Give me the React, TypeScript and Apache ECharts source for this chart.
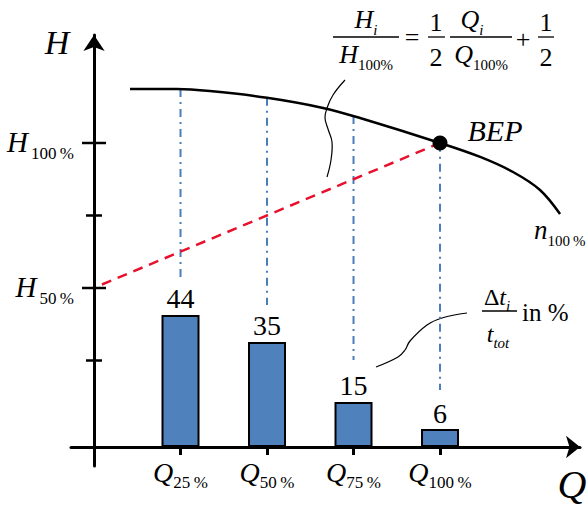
import React, { useEffect, useRef } from 'react';
import * as echarts from 'echarts';

// Pump characteristic (Q in % of Q100, H in % of H100)
const qCurve = [10.4, 24, 33.5, 50, 66.2, 76.9, 100, 111.6, 121.1, 128.9, 134.7];
const hCurve = [118.6, 118.6, 117.9, 115.6, 112.1, 108.6, 100, 95.2, 90, 83.8, 75.5];
// Best efficiency point
const bepQ = 100;
const bepH = 100;
// System line H/H100 = 1/2 Q/Q100 + 1/2
const systemQ = [2.3, 100];
const systemH = [51.2, 100];
// Operating points and time shares
const opQ = [25, 50, 75, 100];
const opQLabels = ['25\u2009%', '50\u2009%', '75\u2009%', '100\u2009%'];
const timeShare = [44, 35, 15, 6];
const dropTop = [118.6, 115.6, 109.3, 99.7];
const dropBottom = [52.1, 44.1, 25.2, 14.8];
// H axis ticks
const hTicks = [25, 50, 75, 100];
const hTickLabels = ['', '50\u2009%', '', '100\u2009%'];

const SERIF = 'Liberation Serif';

function richFrac(main: number, sub: number) {
  return {
    m: { fontFamily: SERIF, fontSize: main, fontStyle: 'italic', fill: '#000', color: '#000', verticalAlign: 'bottom', padding: [0, 0, Math.round(main * 0.2), 0] },
    u: { fontFamily: SERIF, fontSize: main, fill: '#000', color: '#000', verticalAlign: 'bottom', padding: [0, 0, Math.round(main * 0.2), 0] },
    s: { fontFamily: SERIF, fontSize: sub, fill: '#000', color: '#000', verticalAlign: 'bottom' },
    si: { fontFamily: SERIF, fontSize: sub, fontStyle: 'italic', fill: '#000', color: '#000', verticalAlign: 'bottom' },
  };
}

function txt(x: number, y: number, text: string, size: number, italic: boolean, align = 'center') {
  return {
    type: 'text',
    x,
    y,
    silent: true,
    style: {
      text,
      fontFamily: SERIF,
      fontSize: size,
      fontStyle: italic ? 'italic' : 'normal',
      fill: '#000',
      align,
      verticalAlign: 'middle',
      textAlign: align,
      textVerticalAlign: 'middle',
    },
  };
}

function rtxt(x: number, y: number, text: string, main: number, sub: number, align = 'center') {
  return {
    type: 'text',
    x,
    y,
    silent: true,
    style: {
      text,
      fontFamily: SERIF,
      rich: richFrac(main, sub),
      align,
      verticalAlign: 'middle',
      textAlign: align,
      textVerticalAlign: 'middle',
    },
  };
}

function hline(x1: number, x2: number, y: number, w = 1.3) {
  return { type: 'line', silent: true, shape: { x1, y1: y, x2, y2: y }, style: { stroke: '#000', lineWidth: w } };
}

let measureCtx: CanvasRenderingContext2D | null = null;
function measure(text: string, size: number, italic: boolean) {
  if (!measureCtx) measureCtx = document.createElement('canvas').getContext('2d');
  if (!measureCtx) return text.length * size * 0.5;
  measureCtx.font = `${italic ? 'italic ' : ''}${size}px "${SERIF}"`;
  return measureCtx.measureText(text).width;
}

export default function App() {
  const ref = useRef<HTMLDivElement>(null);

  useEffect(() => {
    if (!ref.current) return;
    const chart = echarts.init(ref.current, undefined, { renderer: 'svg' });

    const curveData = qCurve.map((q, i) => [q, hCurve[i]]);
    const systemData = systemQ.map((q, i) => [q, systemH[i]]);
    const barData = opQ.map((q, i) => [q, timeShare[i]]);
    const dropData = opQ.map((q, i) => [q, dropTop[i], dropBottom[i]]);
    const tickData = hTicks.map((h, i) => ({ value: [0, h], labeled: hTickLabels[i] !== '' }));

    const baseGraphic: any[] = [
      txt(57, 42, 'H', 34, true),
      txt(572, 484, 'Q', 40, true),
      // formula
      rtxt(366, 22, '{m|H}{si|i}', 26, 15),
      hline(333, 399, 37),
      rtxt(366, 57, '{m|H}{s|100%}', 26, 15),
      txt(412, 37, '=', 26, false),
      txt(436, 22, '1', 26, false),
      hline(428, 445, 37),
      txt(436, 57, '2', 26, false),
      rtxt(472, 22, '{m|Q}{si|i}', 26, 15),
      hline(450, 512, 37),
      rtxt(481, 57, '{m|Q}{s|100%}', 26, 15),
      txt(523, 39, '+', 26, false),
      txt(546, 22, '1', 26, false),
      hline(538, 554, 37),
      txt(546, 57, '2', 26, false),
      // time share annotation
      rtxt(497, 299, '{u|Δ}{m|t}{si|i}', 24, 15),
      hline(482, 517, 311),
      rtxt(498, 336, '{m|t}{si|tot}', 24, 15),
      txt(522, 312, 'in %', 25, false, 'left'),
      // n100% label
      rtxt(534, 232, '{m|n}{s|100\u2009%}', 27, 15, 'left'),
      // leader lines
      {
        type: 'polyline',
        silent: true,
        shape: { points: [[345, 80], [333, 95], [327, 108], [325, 118], [328, 129], [332, 142], [331, 160], [327, 177]], smooth: 0.4 },
        style: { stroke: '#000', lineWidth: 1.2, fill: 'none' },
      },
      {
        type: 'polyline',
        silent: true,
        shape: { points: [[376, 367], [398, 357], [405, 350], [410, 341], [427, 325], [442, 318], [467, 313]], smooth: 0.4 },
        style: { stroke: '#000', lineWidth: 1.2, fill: 'none' },
      },
    ];

    const option: any = {
      animation: false,
      backgroundColor: '#fff',
      textStyle: { fontFamily: SERIF },
      grid: { left: 71, right: 8, top: 35, bottom: 39, containLabel: false, outerBoundsMode: 'none' },
      xAxis: {
        type: 'value',
        min: -6.65,
        max: 140.46,
        splitLine: { show: false },
        axisLine: {
          show: true,
          onZero: true,
          onZeroAxisIndex: 1,
          symbol: ['none', 'arrow'],
          symbolSize: [17, 14],
          lineStyle: { color: '#000', width: 3 },
        },
        axisTick: { show: true, customValues: opQ, length: 8, lineStyle: { color: '#000', width: 3 } },
        axisLabel: { show: false },
      },
      yAxis: [
        {
          type: 'value',
          min: -11.38,
          max: 137.24,
          splitLine: { show: false },
          axisLine: {
            show: true,
            onZero: true,
            symbol: ['none', 'arrow'],
            symbolSize: [16, 16],
            lineStyle: { color: '#000', width: 3 },
          },
          axisTick: { show: false },
          axisLabel: { show: false },
        },
        {
          type: 'value',
          show: false,
          min: -6.333,
          max: 137.33,
          splitLine: { show: false },
        },
      ],
      series: [
        {
          type: 'bar',
          xAxisIndex: 0,
          yAxisIndex: 1,
          data: barData,
          barWidth: 38,
          z: 2,
          itemStyle: { color: '#4f81bd', borderColor: '#000', borderWidth: 2 },
          label: {
            show: true,
            position: 'top',
            distance: 2,
            formatter: (p: any) => String(p.value[1]),
            fontFamily: SERIF,
            fontSize: 28,
            color: '#000',
          },
          silent: true,
        },
        {
          type: 'custom',
          xAxisIndex: 0,
          yAxisIndex: 0,
          data: dropData,
          z: 1,
          silent: true,
          renderItem: (params: any, api: any) => {
            const p1 = api.coord([api.value(0), api.value(1)]);
            const p2 = api.coord([api.value(0), api.value(2)]);
            return {
              type: 'line',
              shape: { x1: p1[0], y1: p1[1], x2: p2[0], y2: p2[1] },
              style: { stroke: '#4a7ebb', lineWidth: 2, lineDash: [8, 5, 2, 5] },
            };
          },
        },
        {
          type: 'line',
          xAxisIndex: 0,
          yAxisIndex: 0,
          data: systemData,
          symbol: 'none',
          z: 3,
          silent: true,
          lineStyle: { color: '#e8112d', width: 2.5, type: [10, 7] },
        },
        {
          type: 'line',
          xAxisIndex: 0,
          yAxisIndex: 0,
          data: curveData,
          smooth: 0.35,
          symbol: 'none',
          z: 4,
          silent: true,
          lineStyle: { color: '#000', width: 2.5 },
        },
        {
          type: 'scatter',
          xAxisIndex: 0,
          yAxisIndex: 0,
          data: tickData,
          symbol: 'rect',
          symbolSize: (val: any, p: any) => (p.data.labeled ? [24, 2.5] : [16, 2.5]),
          itemStyle: { color: '#000', opacity: 1 },
          z: 5,
          silent: true,
        },
        {
          type: 'scatter',
          xAxisIndex: 0,
          yAxisIndex: 0,
          data: [[bepQ, bepH]],
          symbol: 'circle',
          symbolSize: 15,
          itemStyle: { color: '#000', opacity: 1 },
          z: 6,
          silent: true,
          label: {
            show: true,
            formatter: 'BEP',
            position: 'right',
            distance: 20,
            offset: [0, -12],
            fontFamily: SERIF,
            fontStyle: 'italic',
            fontSize: 30,
            color: '#000',
          },
        },
      ],
      graphic: baseGraphic,
    };

    chart.setOption(option);

    // Axis labels built from the axes' own scales: italic letter plus a subscript
    const axisLabels: any[] = [];
    const x0 = chart.convertToPixel({ xAxisIndex: 0 }, 0) as number;
    const xAxisY = chart.convertToPixel({ yAxisIndex: 1 }, 0) as number;
    opQ.forEach((q, i) => {
      const px = chart.convertToPixel({ xAxisIndex: 0 }, q) as number;
      const wQ = measure('Q', 28, true);
      const wS = measure(opQLabels[i], 17, false);
      const left = px - (wQ + wS) / 2;
      axisLabels.push({
        type: 'text', x: left, y: xAxisY + 25, silent: true,
        style: { text: 'Q', fontFamily: SERIF, fontSize: 28, fontStyle: 'italic', fill: '#000', align: 'left', verticalAlign: 'middle' },
      });
      axisLabels.push({
        type: 'text', x: left + wQ, y: xAxisY + 35.5, silent: true,
        style: { text: opQLabels[i], fontFamily: SERIF, fontSize: 17, fill: '#000', align: 'left', verticalAlign: 'middle' },
      });
    });
    hTicks.forEach((h, i) => {
      if (!hTickLabels[i]) return;
      const py = chart.convertToPixel({ yAxisIndex: 0 }, h) as number;
      const right = x0 - 20;
      const wS = measure(hTickLabels[i], 17, false);
      axisLabels.push({
        type: 'text', x: right - wS - 3, y: py - 1, silent: true,
        style: { text: 'H', fontFamily: SERIF, fontSize: 29, fontStyle: 'italic', fill: '#000', align: 'right', verticalAlign: 'middle' },
      });
      axisLabels.push({
        type: 'text', x: right, y: py + 11, silent: true,
        style: { text: hTickLabels[i], fontFamily: SERIF, fontSize: 17, fill: '#000', align: 'right', verticalAlign: 'middle' },
      });
    });

    chart.setOption({ graphic: baseGraphic.concat(axisLabels) });
    return () => chart.dispose();
  }, []);

  return (
    <div
      ref={ref}
      style={{ position: 'absolute', left: 0, top: 0, width: 588, height: 505, background: '#fff' }}
    />
  );
}
